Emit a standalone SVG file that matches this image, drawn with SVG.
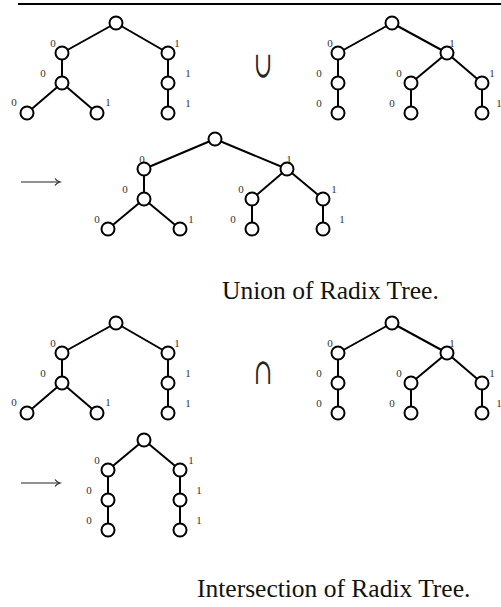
<svg xmlns="http://www.w3.org/2000/svg" width="501" height="607" viewBox="0 0 501 607">
  <style>
    .n { fill: #fff; stroke: #000; stroke-width: 2; }
    .e { stroke: #000; stroke-width: 2; fill: none; }
    .l { font-family: "Liberation Serif", "Times New Roman", serif; font-size: 11px; fill: #333; text-anchor: middle; }
    .op { font-family: "DejaVu Serif", serif; font-size: 26px; fill: #222; text-anchor: middle; }
    .cap { font-family: "Liberation Serif", "Times New Roman", serif; font-size: 25.5px; fill: #111; }
    .arr { stroke: #222; stroke-width: 1.2; fill: none; }
  </style>
  <defs>
    <circle id="node" r="6.5" class="n"/>
  </defs>

  <rect width="501" height="607" fill="#fff"/>
  <!-- rule at top of figure -->
  <line x1="18" y1="4" x2="501" y2="4" stroke="#000" stroke-width="2"/>

  <g id="connectors">
    <g id="edges-A">
      <line class="e" x1="116" y1="23" x2="62" y2="53"/>
      <line class="e" x1="116" y1="23" x2="168" y2="53"/>
      <line class="e" x1="62" y1="53" x2="62" y2="83"/>
      <line class="e" x1="168" y1="53" x2="168" y2="83"/>
      <line class="e" x1="62" y1="83" x2="27" y2="113"/>
      <line class="e" x1="62" y1="83" x2="97" y2="113"/>
      <line class="e" x1="168" y1="83" x2="168" y2="113"/>
    </g>
    <g id="edges-B">
      <line class="e" x1="392" y1="23" x2="338" y2="53"/>
      <line class="e" x1="392" y1="23" x2="447" y2="53"/>
      <line class="e" x1="338" y1="53" x2="338" y2="113"/>
      <line class="e" x1="447" y1="53" x2="411" y2="83"/>
      <line class="e" x1="447" y1="53" x2="482" y2="83"/>
      <line class="e" x1="411" y1="83" x2="411" y2="113"/>
      <line class="e" x1="482" y1="83" x2="482" y2="113"/>
    </g>
    <g id="edges-C">
      <line class="e" x1="215" y1="139" x2="144" y2="169"/>
      <line class="e" x1="215" y1="139" x2="287" y2="169"/>
      <line class="e" x1="144" y1="169" x2="144" y2="199"/>
      <line class="e" x1="144" y1="199" x2="108" y2="229"/>
      <line class="e" x1="144" y1="199" x2="180" y2="229"/>
      <line class="e" x1="287" y1="169" x2="252" y2="199"/>
      <line class="e" x1="287" y1="169" x2="323" y2="199"/>
      <line class="e" x1="252" y1="199" x2="252" y2="229"/>
      <line class="e" x1="323" y1="199" x2="323" y2="229"/>
    </g>
    <g id="edges-D">
      <line class="e" x1="116" y1="323" x2="62" y2="353"/>
      <line class="e" x1="116" y1="323" x2="168" y2="353"/>
      <line class="e" x1="62" y1="353" x2="62" y2="383"/>
      <line class="e" x1="168" y1="353" x2="168" y2="383"/>
      <line class="e" x1="62" y1="383" x2="27" y2="413"/>
      <line class="e" x1="62" y1="383" x2="97" y2="413"/>
      <line class="e" x1="168" y1="383" x2="168" y2="413"/>
    </g>
    <g id="edges-E">
      <line class="e" x1="392" y1="323" x2="338" y2="353"/>
      <line class="e" x1="392" y1="323" x2="447" y2="353"/>
      <line class="e" x1="338" y1="353" x2="338" y2="413"/>
      <line class="e" x1="447" y1="353" x2="411" y2="383"/>
      <line class="e" x1="447" y1="353" x2="482" y2="383"/>
      <line class="e" x1="411" y1="383" x2="411" y2="413"/>
      <line class="e" x1="482" y1="383" x2="482" y2="413"/>
    </g>
    <g id="edges-F">
      <line class="e" x1="144" y1="440" x2="108" y2="470"/>
      <line class="e" x1="144" y1="440" x2="180" y2="470"/>
      <line class="e" x1="108" y1="470" x2="108" y2="530"/>
      <line class="e" x1="180" y1="470" x2="180" y2="530"/>
    </g>
  </g>

  <!-- Tree A -->
  <g id="tree-A">
    <use href="#node" x="116" y="23"/>
    <use href="#node" x="62" y="53"/>
    <use href="#node" x="168" y="53"/>
    <use href="#node" x="62" y="83"/>
    <use href="#node" x="168" y="83"/>
    <use href="#node" x="27" y="113"/>
    <use href="#node" x="97" y="113"/>
    <use href="#node" x="168" y="113"/>
    <text class="l" x="53" y="47">0</text>
    <text class="l" x="177" y="47">1</text>
    <text class="l" x="43" y="77">0</text>
    <text class="l" x="188" y="77">1</text>
    <text class="l" x="14" y="106">0</text>
    <text class="l" x="108" y="106">1</text>
    <text class="l" x="188" y="107">1</text>
  </g>

  <text id="op-union" class="op" transform="translate(263,77) scale(0.85,1.4)">∪</text>

  <!-- Tree B -->
  <g id="tree-B">
    <use href="#node" x="392" y="23"/>
    <use href="#node" x="338" y="53"/>
    <use href="#node" x="447" y="53"/>
    <use href="#node" x="338" y="83"/>
    <use href="#node" x="338" y="113"/>
    <use href="#node" x="411" y="83"/>
    <use href="#node" x="482" y="83"/>
    <use href="#node" x="411" y="113"/>
    <use href="#node" x="482" y="113"/>
    <text class="l" x="330" y="47">0</text>
    <text class="l" x="452" y="47">1</text>
    <text class="l" x="319" y="77">0</text>
    <text class="l" x="319" y="107">0</text>
    <text class="l" x="399" y="77">0</text>
    <text class="l" x="392" y="107">0</text>
    <text class="l" x="492" y="77">1</text>
    <text class="l" x="499" y="107">1</text>
  </g>

  <!-- result arrow -->
  <g id="arrow-union">
    <line class="arr" x1="21" y1="182" x2="59" y2="182"/>
    <path class="arr" d="M55,178.5 Q56.5,181 60,182 Q56.5,183 55,185.5"/>
  </g>

  <!-- Tree C -->
  <g id="tree-C">
    <text class="l" x="142" y="163">0</text>
    <text class="l" x="289" y="163">1</text>
    <use href="#node" x="215" y="139"/>
    <use href="#node" x="144" y="169"/>
    <use href="#node" x="287" y="169"/>
    <use href="#node" x="144" y="199"/>
    <use href="#node" x="108" y="229"/>
    <use href="#node" x="180" y="229"/>
    <use href="#node" x="252" y="199"/>
    <use href="#node" x="323" y="199"/>
    <use href="#node" x="252" y="229"/>
    <use href="#node" x="323" y="229"/>
    <text class="l" x="125" y="193">0</text>
    <text class="l" x="241" y="193">0</text>
    <text class="l" x="334" y="193">1</text>
    <text class="l" x="97" y="223">0</text>
    <text class="l" x="191" y="223">1</text>
    <text class="l" x="233" y="223">0</text>
    <text class="l" x="342" y="223">1</text>
  </g>

  <text id="caption-union" class="cap" x="222" y="299">Union of Radix Tree.</text>

  <!-- Tree D -->
  <g id="tree-D">
    <use href="#node" x="116" y="323"/>
    <use href="#node" x="62" y="353"/>
    <use href="#node" x="168" y="353"/>
    <use href="#node" x="62" y="383"/>
    <use href="#node" x="168" y="383"/>
    <use href="#node" x="27" y="413"/>
    <use href="#node" x="97" y="413"/>
    <use href="#node" x="168" y="413"/>
    <text class="l" x="53" y="347">0</text>
    <text class="l" x="177" y="347">1</text>
    <text class="l" x="43" y="377">0</text>
    <text class="l" x="188" y="377">1</text>
    <text class="l" x="14" y="406">0</text>
    <text class="l" x="108" y="406">1</text>
    <text class="l" x="188" y="407">1</text>
  </g>

  <text id="op-intersection" class="op" transform="translate(263,384) scale(0.85,1.4)">∩</text>

  <!-- Tree E -->
  <g id="tree-E">
    <use href="#node" x="392" y="323"/>
    <use href="#node" x="338" y="353"/>
    <use href="#node" x="447" y="353"/>
    <use href="#node" x="338" y="383"/>
    <use href="#node" x="338" y="413"/>
    <use href="#node" x="411" y="383"/>
    <use href="#node" x="482" y="383"/>
    <use href="#node" x="411" y="413"/>
    <use href="#node" x="482" y="413"/>
    <text class="l" x="330" y="347">0</text>
    <text class="l" x="452" y="347">1</text>
    <text class="l" x="319" y="377">0</text>
    <text class="l" x="319" y="407">0</text>
    <text class="l" x="399" y="377">0</text>
    <text class="l" x="392" y="407">0</text>
    <text class="l" x="492" y="377">1</text>
    <text class="l" x="499" y="407">1</text>
  </g>

  <g id="arrow-intersection">
    <line class="arr" x1="21" y1="483" x2="59" y2="483"/>
    <path class="arr" d="M55,479.5 Q56.5,482 60,483 Q56.5,484 55,486.5"/>
  </g>

  <!-- Tree F -->
  <g id="tree-F">
    <use href="#node" x="144" y="440"/>
    <use href="#node" x="108" y="470"/>
    <use href="#node" x="180" y="470"/>
    <use href="#node" x="108" y="500"/>
    <use href="#node" x="180" y="500"/>
    <use href="#node" x="108" y="530"/>
    <use href="#node" x="180" y="530"/>
    <text class="l" x="97" y="464">0</text>
    <text class="l" x="191" y="464">1</text>
    <text class="l" x="89" y="494">0</text>
    <text class="l" x="199" y="494">1</text>
    <text class="l" x="89" y="524">0</text>
    <text class="l" x="199" y="524">1</text>
  </g>

  <text id="caption-intersection" class="cap" x="197" y="597">Intersection of Radix Tree.</text>
</svg>
